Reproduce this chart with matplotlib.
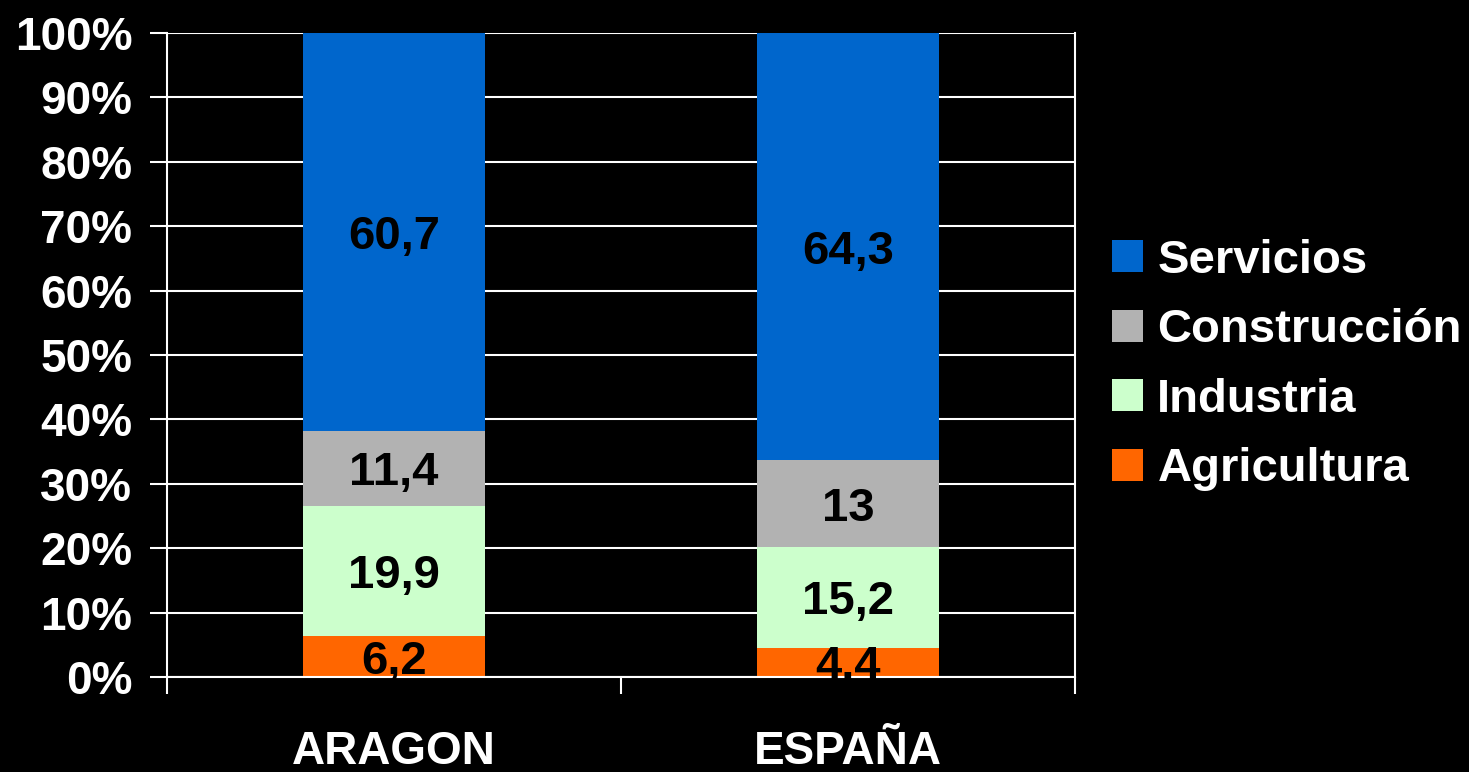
import numpy as np
import matplotlib.pyplot as plt

plt.rcParams['font.family'] = ['Liberation Sans', 'DejaVu Sans']
plt.rcParams['font.weight'] = 'bold'

# Datos (% del empleo por sector)
regiones = ['ARAGON', 'ESPAÑA']
sectores = ['Agricultura', 'Industria', 'Construcción', 'Servicios']
agricultura = [6.2, 4.4]
industria = [19.9, 15.2]
construccion = [11.4, 13]
servicios = [60.7, 64.3]
etiquetas = [['6,2', '4,4'], ['19,9', '15,2'], ['11,4', '13'], ['60,7', '64,3']]
colores = ['#FF6600', '#CCFFCC', '#B2B2B2', '#0066CC']

valores = np.array([agricultura, industria, construccion, servicios])
totales = valores.sum(axis=0)
pct = valores / totales * 100

fig = plt.figure(figsize=(14.69, 7.72), dpi=100, facecolor='black')
ax = fig.add_axes([167 / 1469, 95 / 772, (1075 - 167) / 1469, (677 - 33) / 772])
ax.set_facecolor('black')

x = np.arange(len(regiones))
base = np.zeros(len(regiones))
barras = []
for i, sector in enumerate(sectores):
    b = ax.bar(x, pct[i], bottom=base, width=0.4, color=colores[i], label=sector, zorder=2)
    barras.append(b)
    for j in range(len(regiones)):
        ax.text(x[j], base[j] + pct[i][j] / 2, etiquetas[i][j], ha='center', va='center_baseline',
                fontsize=34, fontweight='bold', color='black', zorder=3)
    base += pct[i]

ax.set_ylim(0, 100)
ax.set_xlim(-0.5, 1.5)
ax.set_yticks(np.arange(0, 101, 10))
ax.set_yticklabels([f'{v}%' for v in range(0, 101, 10)])
ax.yaxis.grid(True, color='white', linewidth=1.5, zorder=0)
ax.set_axisbelow(True)
ax.tick_params(axis='y', colors='white', labelsize=33, length=12, width=1.5, pad=13)

ax.set_xticks([-0.5, 0.5, 1.5])
ax.set_xticklabels([])
ax.set_xticks(x, minor=True)
ax.set_xticklabels(regiones, minor=True)
ax.tick_params(axis='x', which='major', colors='white', length=12, width=1.5)
ax.tick_params(axis='x', which='minor', length=0, labelsize=33, labelcolor='white', pad=38)

for s in ['left', 'right', 'bottom']:
    ax.spines[s].set_color('white')
    ax.spines[s].set_linewidth(1.5)
ax.spines['top'].set_visible(False)

handles = [barras[i] for i in range(3, -1, -1)]
leg = fig.legend(handles, [sectores[i] for i in range(3, -1, -1)],
                 loc='center left', bbox_to_anchor=(1112 / 1469, 0.527),
                 frameon=False, fontsize=34, labelcolor='white',
                 handlelength=0.66, handleheight=0.66, handletextpad=0.3,
                 labelspacing=0.54, borderpad=0, borderaxespad=0)

fig.savefig('out.png', dpi=100, facecolor='black')
